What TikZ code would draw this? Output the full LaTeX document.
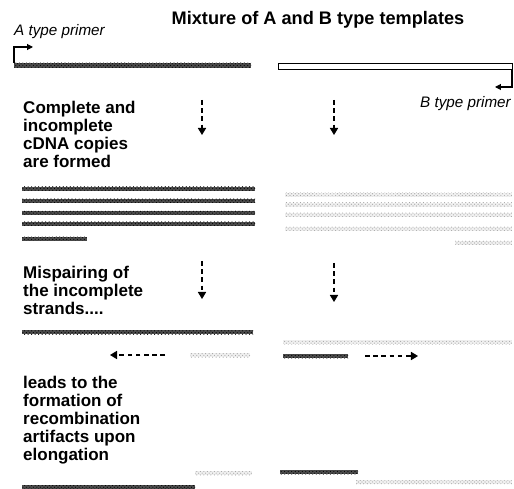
\documentclass[tikz,border=0pt]{standalone}
\usepackage{fontspec}
\setmainfont{Liberation Sans}
\usepackage{tikz}
\usetikzlibrary{arrows.meta,patterns}

\tikzset{
  darkbar/.style={fill=black!70,postaction={pattern=crosshatch dots,pattern color=black}},
  lightbar/.style={fill=black!6,postaction={pattern=crosshatch dots,pattern color=black!35}},
  steptext/.style={font=\bfseries\fontsize{14.5}{15.3}\selectfont,align=left,anchor=north west,inner sep=0pt},
  primertext/.style={font=\itshape\fontsize{13}{15}\selectfont,anchor=base west,inner sep=0pt},
  flow/.style={dash pattern=on 4pt off 3pt,line width=0.9pt,-{Triangle[length=6pt,width=7pt]}},
  primer/.style={line width=0.9pt,-{Triangle[length=5pt,width=5pt]}}
}

\begin{document}
\begin{tikzpicture}[x=0.03cm,y=-0.03cm]
      \useasboundingbox (0,0) rectangle (514,489);
      % title and primers
      \node[font=\bfseries\fontsize{15.5}{18}\selectfont,anchor=base,inner sep=0pt] (title) at (318,25)
        {Mixture of A and B type templates};
      \node[primertext] (aprimer) at (14,36) {A type primer};
      \node[primertext] (bprimer) at (420,108) {B type primer};
      \coordinate (a0) at (14,63);
      \coordinate (a1) at (14,47);
      \coordinate (a2) at (33,47);
      \draw[primer] (a0) -- (a1) -- (a2);
      \coordinate (b0) at (512,69);
      \coordinate (b1) at (512,87);
      \coordinate (b2) at (495,87);
      \draw[primer] (b0) -- (b1) -- (b2);
      % templates
      \fill[darkbar] (14,63) rectangle (251,68);
      \draw[line width=0.8pt,fill=white] (278,63) rectangle (512,69);

      % step 1
      \node[steptext] (step1) at (23,101)
        {Complete and\\incomplete\\cDNA copies\\are formed};
      \coordinate (d1a) at (202,100);
      \coordinate (d1b) at (202,135);
      \coordinate (d2a) at (334,100);
      \coordinate (d2b) at (334,135);
      \draw[flow] (d1a) -- (d1b);
      \draw[flow] (d2a) -- (d2b);
      \foreach \y in {187,199,211,222} {
        \fill[darkbar] (22,\y) rectangle (255,\y+4);
      }
      \fill[darkbar] (22,237) rectangle (87,241);
      \foreach \y in {193,203,213,227} {
        \fill[lightbar] (285,\y) rectangle (512,\y+4);
      }
      \fill[lightbar] (455,241) rectangle (512,245);

      % step 2
      \node[steptext] (step2) at (23,266)
        {Mispairing of\\the incomplete\\strands....};
      \coordinate (d3a) at (202,261);
      \coordinate (d3b) at (202,299);
      \coordinate (d4a) at (334,263);
      \coordinate (d4b) at (334,302);
      \draw[flow] (d3a) -- (d3b);
      \draw[flow] (d4a) -- (d4b);
      \fill[darkbar] (22,330) rectangle (253,334);
      \fill[lightbar] (283,340) rectangle (512,344);
      \fill[lightbar] (190,353) rectangle (250,357);
      \fill[darkbar] (283,354) rectangle (348,358);
      \coordinate (l0) at (165,355);
      \coordinate (l1) at (110,355);
      \coordinate (r0) at (365,356);
      \coordinate (r1) at (418,356);
      \draw[flow] (l0) -- (l1);
      \draw[flow] (r0) -- (r1);

      % step 3
      \node[steptext] (step3) at (23,376)
        {leads to the\\formation of\\recombination\\artifacts upon\\elongation};
      \fill[lightbar] (195,471) rectangle (252,475);
      \fill[darkbar] (22,485) rectangle (195,489);
      \fill[darkbar] (280,470) rectangle (358,474);
      \fill[lightbar] (356,480) rectangle (512,484);
    \end{tikzpicture}
\end{document}
